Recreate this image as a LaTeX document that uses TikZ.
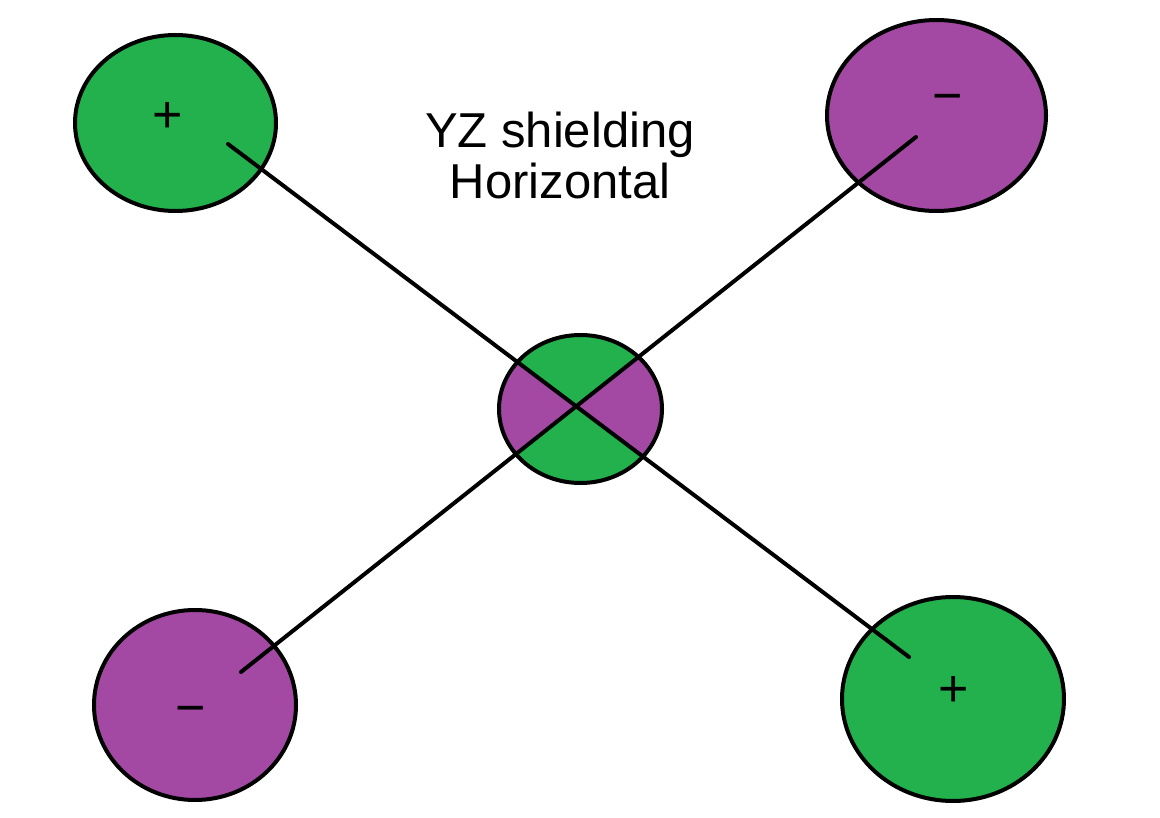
\documentclass[tikz,border=0pt]{standalone}
\usepackage{fontspec}
\setmainfont{Liberation Sans}
\usepackage{tikz}
\usetikzlibrary{shapes.geometric}
\definecolor{posgreen}{RGB}{34,177,76}
\definecolor{negpurple}{RGB}{163,73,164}
\tikzset{
    pole/.style={
            ellipse, draw=black, line width=4pt, inner sep=0pt
        },
    positive/.style={pole, fill=posgreen},
    negative/.style={pole, fill=negpurple},
    sign/.style={
            anchor=base, inner sep=0pt, font=\fontsize{52}{52}\selectfont
        },
    bond/.style={
            black, line width=4pt, line cap=round
        }
}
\begin{document}
\begin{tikzpicture}[x=1pt, y=-1pt]
        \useasboundingbox (0,0) rectangle (1160,818);

        \node[positive, minimum width=201pt, minimum height=176pt] (TL) at (175.5,123) {};
        \node[negative, minimum width=219pt, minimum height=191pt] (TR) at (936.5,115.5) {};
        \node[negative, minimum width=202pt, minimum height=190pt] (BL) at (195,705) {};
        \node[positive, minimum width=222pt, minimum height=204pt] (BR) at (953,699) {};
        \node[negative, draw=none, minimum width=163pt, minimum height=148pt] (M) at (580.5,409) {};

        \coordinate (a1) at (228,144);
        \coordinate (a2) at (909,657);
        \coordinate (b1) at (241,672);
        \coordinate (b2) at (916,137);
        \coordinate (X) at (intersection of a1--a2 and b1--b2);

        % top and bottom quarters of the middle one
        \begin{scope}
            \clip (M.center) ellipse [x radius=81.5, y radius=74];
            \fill[posgreen] (X) -- (a1) -- (b2) -- cycle;
            \fill[posgreen] (X) -- (b1) -- (a2) -- cycle;
        \end{scope}
        \draw[line width=4pt] (M.center) ellipse [x radius=81.5, y radius=74];

        \draw[bond] (a1) -- (a2);
        \draw[bond] (b1) -- (b2);

        \node[sign] (TLs) at (168,133) {+};
        \node[sign] (TRs) at (948,113.5) {−};
        \node[sign] (BLs) at (191,725.5) {−};
        \node[sign] (BRs) at (954,706) {+};

        \node[align=center, font=\fontsize{49}{51}\selectfont] (title) at (560,155) {YZ shielding\\Horizontal};

    \end{tikzpicture}
\end{document}
